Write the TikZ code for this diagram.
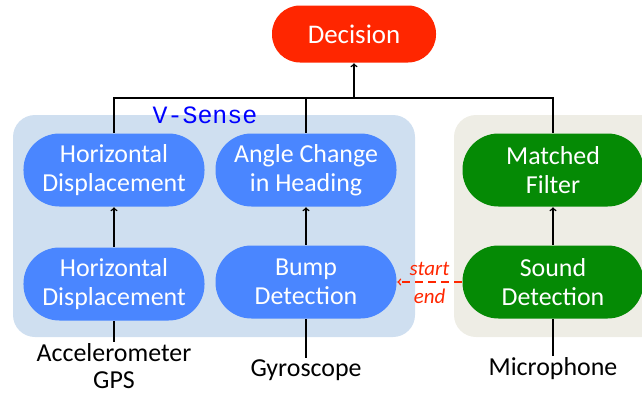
\documentclass[tikz,border=0pt]{standalone}
\usepackage{fontspec}
\setmainfont{Carlito}
\newfontfamily\vsfont{Liberation Mono}
\definecolor{decred}{HTML}{FF2600}
\definecolor{vblue}{HTML}{4A86FF}
\definecolor{vgreen}{HTML}{058A05}
\definecolor{vsbg}{HTML}{CFDFF0}
\definecolor{micbg}{HTML}{EEEDE5}
\begin{document}
\begin{tikzpicture}
		[x=1bp, y=-1bp, line width=1.5bp,
		 every node/.style={inner sep=1pt, align=center, font=\fontsize{26}{29}\selectfont},
		 pill/.style={rounded corners=36bp, minimum width=181bp, minimum height=73bp, text=white},
		 cue/.style={text=decred, font=\fontsize{21}{21}\selectfont\itshape}]
		\useasboundingbox (0,0) rectangle (642,396);
		% background groups
		\fill[vsbg, rounded corners=22bp] (13,115) rectangle (415,337);
		\fill[micbg, rounded corners=22bp] (454,115) rectangle (680,337);
		\node[font=\vsfont\fontsize{25}{25}\selectfont, text=blue] (vsense) at (205,115) {V-Sense};
		
		\node[pill, fill=decred, minimum width=164bp, minimum height=57bp, rounded corners=28bp, font=\fontsize{27}{29}\selectfont] (decision) at (354,34) {Decision};
		\coordinate (join) at (354,98);
		
		\node[pill, fill=vblue] (hdtop) at (114,170) {Horizontal\\Displacement};
		\node[pill, fill=vblue] (angle) at (306,170) {Angle Change\\in Heading};
		\node[pill, fill=vgreen] (filter) at (553,170) {Matched\\Filter};
		\node[pill, fill=vblue] (hdbot) at (114,284) {Horizontal\\Displacement};
		\node[pill, fill=vblue] (bump) at (306,282) {Bump\\Detection};
		\node[pill, fill=vgreen] (sound) at (553,282) {Sound\\Detection};
		
		\node[font=\fontsize{26}{27}\selectfont] (accel) at (114,366) {Accelerometer\\GPS};
		\node (gyro) at (306,370) {Gyroscope};
		\node (mic) at (553,369) {Microphone};
		
		\draw (hdtop) |- (join);
		\draw (angle) |- (join);
		\draw (filter) |- (join);
		\path[->] (join) edge (decision);
		
		\path[->] (hdbot) edge (hdtop);
		\path[->] (bump) edge (angle);
		\path[->] (sound) edge (filter);
		
		\path (accel) edge (hdbot);
		\path (gyro) edge (bump);
		\path (mic) edge (sound);
		
		\path[->] (sound) edge[decred, dash pattern=on 8bp off 5bp]
			node[cue, above=5bp] {start} node[cue, below=5bp] {end} (bump);
		\end{tikzpicture}
\end{document}
